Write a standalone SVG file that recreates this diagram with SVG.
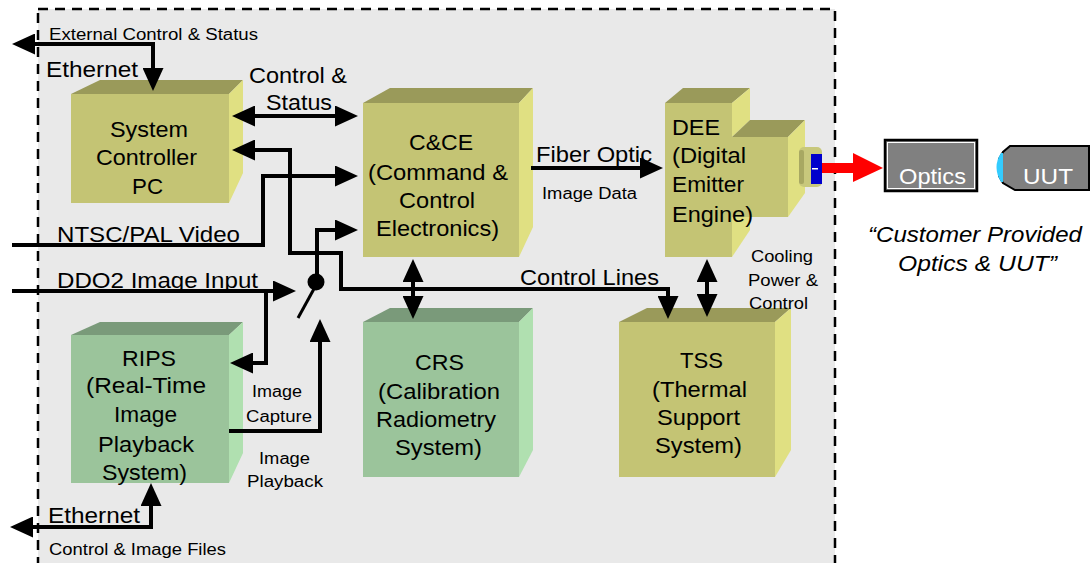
<svg xmlns="http://www.w3.org/2000/svg" width="1091" height="563" viewBox="0 0 1091 563">
  <style>
    text { font-family: "Liberation Sans", Arial, sans-serif; fill: #000; }
    .t { font-size: 22px; }
    .s { font-size: 16px; }
    .w { fill: #fff; }
    .i { font-style: italic; }
    .of { fill: #c4c474; }
    .ot { fill: #9a9a5a; }
    .or { fill: #e0e082; }
    .gf { fill: #9bc49b; }
    .gt { fill: #7a9a7a; }
    .gr { fill: #b0e0b0; }
    .ln { fill: none; stroke: #000; stroke-width: 4; stroke-linejoin: miter; }
  </style>
  <defs>
    <marker id="ah" markerUnits="userSpaceOnUse" markerWidth="23" markerHeight="21" refX="18" refY="10.5" orient="auto-start-reverse" viewBox="0 0 23 21">
      <path d="M0,0 L23,10.5 L0,21 Z" fill="#000"/>
    </marker>
  </defs>

  <rect width="1091" height="563" fill="#fff"/>
  <!-- system boundary -->
  <rect x="38" y="9" width="797" height="570" fill="#e9e9e9" stroke="#000" stroke-width="2.5" stroke-dasharray="10 7"/>

  <!-- System Controller PC -->
  <g id="scpc">
    <polygon class="ot" points="71,94 100,80 243,80 229,94"/>
    <polygon class="or" points="229,94 243,80 243,173 229,203"/>
    <rect class="of" x="71" y="94" width="158" height="109"/>
    <text class="t" x="110" y="137" textLength="78" lengthAdjust="spacingAndGlyphs">System</text>
    <text class="t" x="96" y="165" textLength="101" lengthAdjust="spacingAndGlyphs">Controller</text>
    <text class="t" x="132" y="194" textLength="31" lengthAdjust="spacingAndGlyphs">PC</text>
  </g>

  <!-- C&CE -->
  <g id="cce">
    <polygon class="ot" points="363,103 390,88 533,88 519,103"/>
    <polygon class="or" points="519,103 533,88 533,227 519,257"/>
    <rect class="of" x="363" y="103" width="156" height="154"/>
    <text class="t" x="409" y="150" textLength="64" lengthAdjust="spacingAndGlyphs">C&amp;CE</text>
    <text class="t" x="368" y="180" textLength="140" lengthAdjust="spacingAndGlyphs">(Command &amp;</text>
    <text class="t" x="399" y="208" textLength="76" lengthAdjust="spacingAndGlyphs">Control</text>
    <text class="t" x="376" y="236" textLength="123" lengthAdjust="spacingAndGlyphs">Electronics)</text>
  </g>

  <!-- DEE -->
  <g id="dee">
    <polygon class="ot" points="665,103 683,88 750,88 732,103"/>
    <polygon class="or" points="732,103 750,88 750,120 732,137"/>
    <polygon class="ot" points="732,137 750,120 805,120 788,137"/>
    <polygon class="or" points="788,137 805,120 805,193 788,217"/>
    <polygon class="or" points="732,217 750,217 750,230 732,257"/>
    <polygon class="of" points="665,103 732,103 732,137 788,137 788,217 732,217 732,257 665,257"/>
    <!-- fiber port -->
    <rect x="799" y="147" width="23" height="40" rx="5" fill="#c8c87c"/>
    <rect x="799" y="150" width="5" height="34" rx="2" fill="#a8a862"/>
    <rect x="811" y="154" width="11" height="30" fill="#0000cc"/>
    <rect x="812" y="168" width="6" height="1.5" fill="#fff"/>
    <text class="t" x="672" y="135" textLength="48" lengthAdjust="spacingAndGlyphs">DEE</text>
    <text class="t" x="672" y="163" textLength="74" lengthAdjust="spacingAndGlyphs">(Digital</text>
    <text class="t" x="672" y="192" textLength="72" lengthAdjust="spacingAndGlyphs">Emitter</text>
    <text class="t" x="672" y="222" textLength="81" lengthAdjust="spacingAndGlyphs">Engine)</text>
  </g>

  <!-- RIPS -->
  <g id="rips">
    <polygon class="gt" points="71,335 100,322 243,322 229,335"/>
    <polygon class="gr" points="229,335 243,322 243,453 229,483"/>
    <rect class="gf" x="71" y="335" width="158" height="148"/>
    <text class="t" x="122" y="366" textLength="54" lengthAdjust="spacingAndGlyphs">RIPS</text>
    <text class="t" x="86" y="393" textLength="120" lengthAdjust="spacingAndGlyphs">(Real-Time</text>
    <text class="t" x="114" y="422" textLength="63" lengthAdjust="spacingAndGlyphs">Image</text>
    <text class="t" x="98" y="452" textLength="96" lengthAdjust="spacingAndGlyphs">Playback</text>
    <text class="t" x="102" y="480" textLength="85" lengthAdjust="spacingAndGlyphs">System)</text>
  </g>

  <!-- CRS -->
  <g id="crs">
    <polygon class="gt" points="363,322 390,308 533,308 519,322"/>
    <polygon class="gr" points="519,322 533,308 533,450 519,477"/>
    <rect class="gf" x="363" y="322" width="156" height="155"/>
    <text class="t" x="415" y="370" textLength="49" lengthAdjust="spacingAndGlyphs">CRS</text>
    <text class="t" x="378" y="399" textLength="122" lengthAdjust="spacingAndGlyphs">(Calibration</text>
    <text class="t" x="376" y="427" textLength="120" lengthAdjust="spacingAndGlyphs">Radiometry</text>
    <text class="t" x="395" y="455" textLength="87" lengthAdjust="spacingAndGlyphs">System)</text>
  </g>

  <!-- TSS -->
  <g id="tss">
    <polygon class="ot" points="619,322 647,308 791,308 775,322"/>
    <polygon class="or" points="775,322 791,308 791,450 775,477"/>
    <rect class="of" x="619" y="322" width="156" height="155"/>
    <text class="t" x="680" y="368" textLength="43" lengthAdjust="spacingAndGlyphs">TSS</text>
    <text class="t" x="652" y="397" textLength="95" lengthAdjust="spacingAndGlyphs">(Thermal</text>
    <text class="t" x="657" y="425" textLength="83" lengthAdjust="spacingAndGlyphs">Support</text>
    <text class="t" x="655" y="453" textLength="87" lengthAdjust="spacingAndGlyphs">System)</text>
  </g>

  <!-- Optics -->
  <g id="optics">
    <rect x="885" y="140" width="92" height="51" fill="#808080" stroke="#000" stroke-width="2.5"/>
    <rect x="887.5" y="142.5" width="87" height="46" fill="none" stroke="#fff" stroke-width="1"/>
    <text class="t w" x="899" y="184" textLength="67" lengthAdjust="spacingAndGlyphs">Optics</text>
  </g>

  <!-- UUT -->
  <g id="uut">
    <path d="M1010,146 L1089,146 L1089,190 L1015,190 L1003,183 L999,176 L999,159 L1003,152 Z" fill="#808080" stroke="#000" stroke-width="2"/>
    <path d="M1001,153 Q992,167 1001,182 L1003,182 L1003,153 Z" fill="#33ccff"/>
    <text class="t w" x="1023" y="184" textLength="50" lengthAdjust="spacingAndGlyphs">UUT</text>
  </g>

  <!-- connectors -->
  <g id="connectors">
    <polyline class="ln" points="17,44 153,44 153,86" marker-start="url(#ah)" marker-end="url(#ah)"/>
    <polyline class="ln" points="237,116 353,116" marker-start="url(#ah)" marker-end="url(#ah)"/>
    <polyline class="ln" points="237,150 290,150 290,253 341,253 341,289 668,289 668,314" marker-start="url(#ah)" marker-end="url(#ah)"/>
    <polyline class="ln" points="12,245 263,245 263,176 353,176" marker-end="url(#ah)"/>
    <polyline class="ln" points="12,291 291,291" marker-end="url(#ah)"/>
    <polyline class="ln" points="266,291 266,363 235,363" marker-end="url(#ah)"/>
    <polyline class="ln" points="317,282 317,230 353,230" marker-end="url(#ah)"/>
    <circle cx="316" cy="282" r="8.5" fill="#000"/>
    <line x1="315" y1="287" x2="298" y2="318" stroke="#000" stroke-width="3"/>
    <polyline class="ln" points="229,431 320,431 320,324" marker-end="url(#ah)"/>
    <polyline class="ln" points="151,488 151,527 15,527" marker-start="url(#ah)" marker-end="url(#ah)"/>
    <polyline class="ln" points="531,168 658,168" marker-end="url(#ah)"/>
    <polyline class="ln" points="413,264 413,314" marker-start="url(#ah)" marker-end="url(#ah)"/>
    <polyline class="ln" points="707,264 707,312" marker-start="url(#ah)" marker-end="url(#ah)"/>
    <!-- optical beam -->
    <rect x="822" y="163" width="32" height="10" fill="#ff0000"/>
    <polygon points="853,153 883,168 853,182" fill="#ff0000"/>
  </g>

  <!-- labels -->
  <g id="labels">
    <text class="s" x="49" y="40" textLength="209" lengthAdjust="spacingAndGlyphs">External Control &amp; Status</text>
    <text class="t" x="46" y="77" textLength="92" lengthAdjust="spacingAndGlyphs">Ethernet</text>
    <text class="t" x="249" y="83" textLength="98" lengthAdjust="spacingAndGlyphs">Control &amp;</text>
    <text class="t" x="266" y="110" textLength="66" lengthAdjust="spacingAndGlyphs">Status</text>
    <text class="t" x="536" y="162" textLength="116" lengthAdjust="spacingAndGlyphs">Fiber Optic</text>
    <text class="s" x="542" y="199" textLength="95" lengthAdjust="spacingAndGlyphs">Image Data</text>
    <text class="t" x="57" y="242" textLength="183" lengthAdjust="spacingAndGlyphs">NTSC/PAL Video</text>
    <text class="t" x="57" y="288" textLength="201" lengthAdjust="spacingAndGlyphs">DDO2 Image Input</text>
    <text class="t" x="520" y="285" textLength="139" lengthAdjust="spacingAndGlyphs">Control Lines</text>
    <text class="s" x="751" y="262" textLength="62" lengthAdjust="spacingAndGlyphs">Cooling</text>
    <text class="s" x="748" y="286" textLength="70" lengthAdjust="spacingAndGlyphs">Power &amp;</text>
    <text class="s" x="749" y="309" textLength="59" lengthAdjust="spacingAndGlyphs">Control</text>
    <text class="s" x="252" y="397" textLength="50" lengthAdjust="spacingAndGlyphs">Image</text>
    <text class="s" x="246" y="422" textLength="66" lengthAdjust="spacingAndGlyphs">Capture</text>
    <text class="s" x="259" y="464" textLength="51" lengthAdjust="spacingAndGlyphs">Image</text>
    <text class="s" x="247" y="487" textLength="76" lengthAdjust="spacingAndGlyphs">Playback</text>
    <text class="t" x="48" y="523" textLength="92" lengthAdjust="spacingAndGlyphs">Ethernet</text>
    <text class="s" x="49" y="555" textLength="177" lengthAdjust="spacingAndGlyphs">Control &amp; Image Files</text>
    <text class="t i" x="868" y="242" textLength="214" lengthAdjust="spacingAndGlyphs">“Customer Provided</text>
    <text class="t i" x="898" y="271" textLength="159" lengthAdjust="spacingAndGlyphs">Optics &amp; UUT”</text>
  </g>
</svg>
